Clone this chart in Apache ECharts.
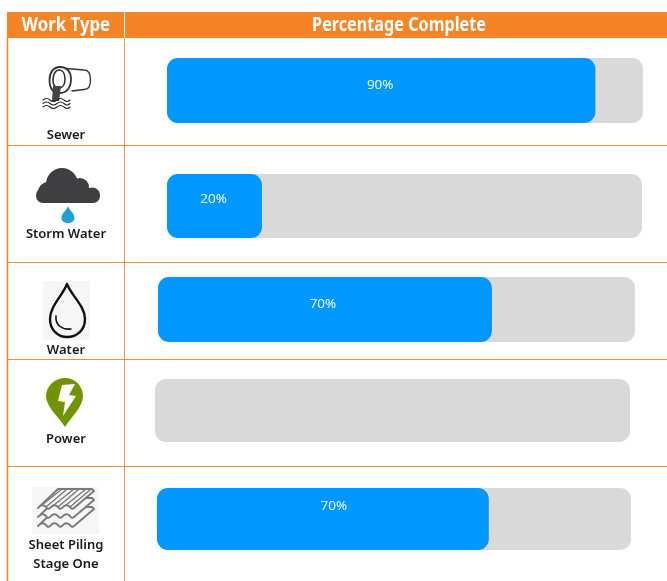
<!DOCTYPE html>
<html><head><meta charset="utf-8">
<style>html,body{margin:0;padding:0;background:#fff}#c{width:667px;height:581px}</style>
<script src="https://cdn.jsdelivr.net/npm/echarts@6/dist/echarts.min.js"></script>
</head><body><div id="c"></div>
<script>
const categories = ['Sewer', 'Storm Water', 'Water', 'Power', 'Sheet Piling\nStage One'];
const percentComplete = [90, 20, 70, 0, 70];
const trackValues = [100, 100, 100, 100, 100];
const headers = ['Work Type', 'Percentage Complete'];

// layout of each bar's own panel, as in the source slide
const panels = [
  {left: 167, width: 476, top: 58, height: 65, labelOffset: [-1, -5]},
  {left: 167, width: 475, top: 174, height: 64, labelOffset: [-1, -7]},
  {left: 158, width: 477, top: 277, height: 65, labelOffset: [-2, -5]},
  {left: 155, width: 475, top: 379, height: 63, labelOffset: [0, 0]},
  {left: 157, width: 474, top: 488, height: 62, labelOffset: [11, -13]}
];
const rowLines = [145, 262, 359, 466];
const categoryY = [135.5, 234.5, 350.5, 439.5, 554.5];
const ORANGE = '#f58426', LINE = '#f68c33', BLUE = '#0098ff', TRACK = '#d9d9d9';
const LABEL_FONT = '"Open Sans","Noto Sans",sans-serif';

const grids = [], xAxes = [], yAxes = [], series = [];
panels.forEach((p, i) => {
  grids.push({left: p.left, top: p.top, width: p.width, height: p.height, containLabel: false});
  xAxes.push({type: 'value', gridIndex: i, min: 0, max: 100, show: false});
  yAxes.push({type: 'category', gridIndex: i, data: [categories[i]], show: false});
  series.push({
    type: 'bar', xAxisIndex: i, yAxisIndex: i, data: [trackValues[i]], barWidth: '100%', barGap: '-100%',
    silent: true, itemStyle: {color: TRACK, borderRadius: 11}, z: 2
  });
  series.push({
    type: 'bar', xAxisIndex: i, yAxisIndex: i, data: [percentComplete[i]], barWidth: '100%', barGap: '-100%',
    itemStyle: {color: BLUE, borderRadius: 11}, z: 3,
    label: {
      show: percentComplete[i] > 0, position: 'inside', offset: p.labelOffset,
      formatter: '{c}%', color: '#fff', fontSize: 13.5, fontFamily: LABEL_FONT
    }
  });
});

const stroke = (w, c, fill = 'none') => ({fill, stroke: c, lineWidth: w, lineCap: 'round', lineJoin: 'round'});
let pathCount = 0;
const path = (d, style, z = 10) => {
  const name = 'iconPath' + (pathCount++);
  echarts.graphic.registerShape(name, echarts.graphic.extendPath(d, {}));
  return {type: name, style, silent: true, z};
};
const line = (x1, y1, x2, y2, c = LINE, w = 1) => ({type: 'line', shape: {x1, y1, x2, y2}, style: {stroke: c, lineWidth: w}, silent: true, z: 5});
const rect = (x, y, width, height, fill, r = 0) => ({type: 'rect', shape: {x, y, width, height, r}, style: {fill}, silent: true, z: 4});
const circle = (cx, cy, r, fill) => ({type: 'circle', shape: {cx, cy, r}, style: {fill}, silent: true, z: 10});
const text = (t, x, y, fontSize, fill, fontFamily, fontWeight, lineHeight, scaleX = 1) => ({
  type: 'text', x, y, scaleX, silent: true, z: 12,
  style: {text: t, fill, fontSize, fontFamily, fontWeight, lineHeight, align: 'center', verticalAlign: 'middle'}
});

const cellFont = '"Noto Sans","Open Sans",sans-serif';

const sheet = (dy, z) => path(
  `M38 ${508+dy} q4 -5 8 -1 q2 3 4 1 q4 -5 8 -1 q2 3 4 1 q4 -5 8 -1 q2 3 4 1 L94 ${491+dy} L92 ${489+dy} L58 ${489+dy} Z`,
  stroke(1.9, '#7a7a7a', '#f6f6f6'), z
);

const graphics = [
  rect(7, 12, 660, 26, ORANGE),
  line(124.5, 12, 124.5, 38, '#fff', 1),
  line(7.5, 38, 7.5, 581, ORANGE, 1.5),
  line(124.5, 38, 124.5, 581),
  ...rowLines.map(y => line(7, y + 0.5, 667, y + 0.5)),
  text(headers[0], 66, 25, 20, '#fff', cellFont, 'bold', undefined, 0.84),
  text(headers[1], 399, 25, 20, '#fff', cellFont, 'bold', undefined, 0.81),

  // Sewer icon
  path('M66 68.5 L84 70 Q90.5 70 90.5 80 Q90.5 89.5 84 89.5 L72 91', stroke(1.4, '#333')),
  path('M60 67 C53 67 49.5 73 49.5 80 C49.5 88 53 93 60 93 C67 93 71 87 71 79 C71 72 67 67 60 67Z', stroke(1.8, '#333')),
  path('M59 70 C55 70 53 75 53 80 C53 85 55 88 59 88 C63 88 65 84 65 79 C65 74 63 70 59 70Z', stroke(1.6, '#333')),
  path('M53 86 L61 86 L59 101 L52 101Z', {fill: '#444'}),
  path('M43 100 q3.5 -3 7 0 q3.5 3 7 0 q3.5 -3 7 0 q3 3 6 0 M43 103.5 q3.5 -3 7 0 q3.5 3 7 0 q3.5 -3 7 0 q3 3 6 0 M43 107 q3.5 -3 7 0 q3.5 3 7 0 q3.5 -3 7 0 q3 3 6 0', stroke(1.1, '#222')),

  // Storm water icon
  circle(62, 184, 16, '#3f3f41'), circle(48, 192, 10, '#3f3f41'), circle(80, 187, 9, '#3f3f41'), circle(92, 195, 7.5, '#3f3f41'),
  rect(36, 188, 64, 15, '#3f3f41', 7),
  path('M68 206 C69.5 211 74.5 213 74.5 218 C74.5 221 71.5 223 68 223 C64.5 223 61.5 221 61.5 218 C61.5 213 66.5 211 68 206Z', {fill: '#1ba1d8'}),

  // Water icon
  rect(43, 281, 47, 59, '#f6f6f6'),
  path('M67 284 C63 295 50 306 50 319 C50 330 58 337 67 337 C77 337 85 330 85 319 C85 306 71 295 67 284Z', stroke(2.4, '#111')),
  path('M56 316 C55 325 62 330 71 329', stroke(1.6, '#111')),

  // Power icon
  path('M65 378 C75 378 83 386 83 396 C83 407 71 417 65 427 C59 417 46 407 46 396 C46 386 55 378 65 378Z', {fill: '#6f9400'}),
  path('M62 385 L75 384 L69 395 L76 396 L63 416 L65 402 L58 401Z', {fill: '#fff'}),

  // Sheet piling icon
  rect(32, 487, 67, 47, '#f6f6f6'),
  sheet(18, 10), sheet(9, 11), sheet(0, 12),
  path('M42 505 L62 489 M46 507 L66 490 M54 505 L74 489 M58 507 L78 490 M66 505 L86 489 M70 507 L90 490', stroke(1.4, '#7a7a7a'), 13),

  ...categories.map((c, i) => text(c, 66, categoryY[i], 13, '#1a1a1a', cellFont, 600, 19))
];

const chart = echarts.init(document.getElementById('c'), null, {renderer: 'canvas'});
chart.setOption({
  animation: false, backgroundColor: '#fff',
  grid: grids, xAxis: xAxes, yAxis: yAxes, series, graphic: {elements: graphics}
});
</script></body></html>
